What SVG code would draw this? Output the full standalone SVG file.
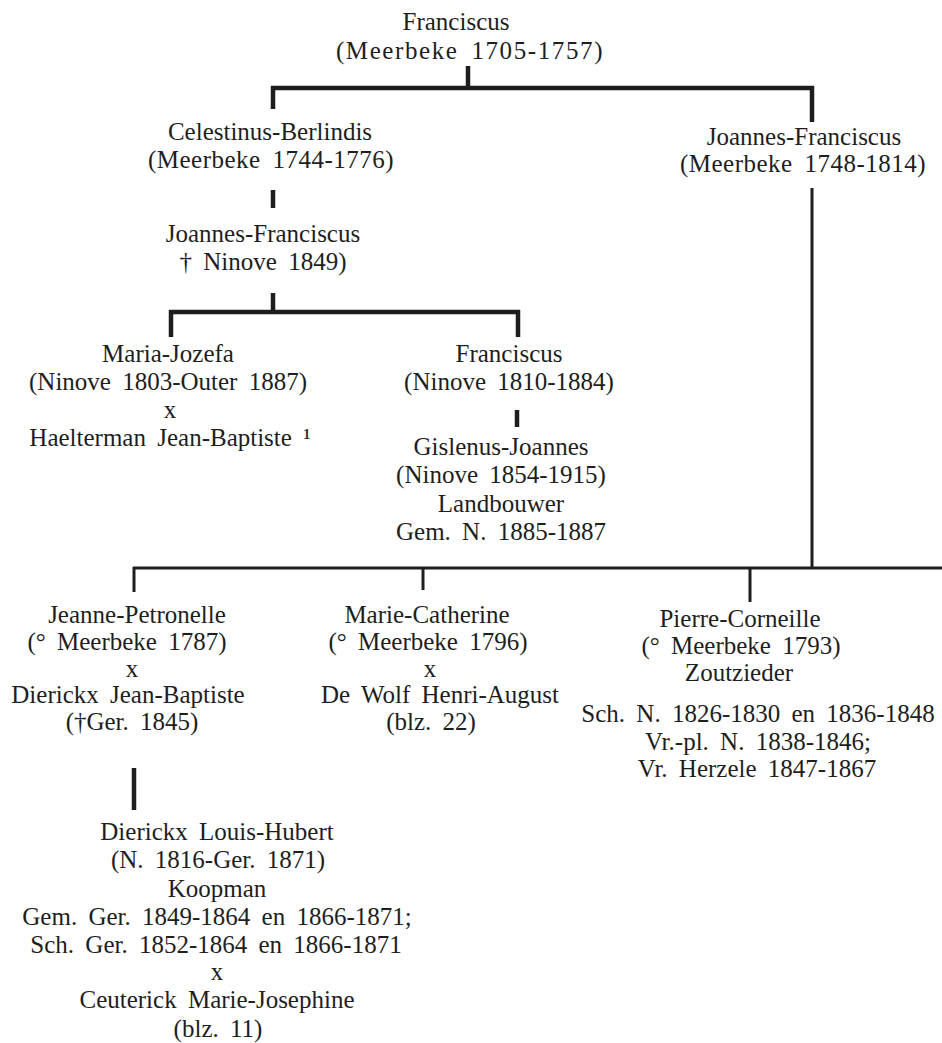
<svg xmlns="http://www.w3.org/2000/svg" width="942" height="1043" viewBox="0 0 942 1043">
<style>
.t{font-family:"Liberation Serif",serif;font-size:25px;fill:#1e1e1e;text-anchor:middle;word-spacing:5px}
.ls1{letter-spacing:0.5px}
.ls2{letter-spacing:1.6px}
.c{stroke:#1e1e1e;fill:none;stroke-linecap:butt}
.w4{stroke-width:4.5}
.w3{stroke-width:3}
</style>
<rect width="942" height="1043" fill="#ffffff"/>
<g id="connectors">
  <line class="c w4" x1="468" y1="66" x2="468" y2="88"/>
  <line class="c w4" x1="271" y1="88" x2="814" y2="88"/>
  <line class="c w4" x1="273" y1="86" x2="273" y2="109"/>
  <line class="c w4" x1="812" y1="86" x2="812" y2="122"/>
  <line class="c w4" x1="273" y1="190" x2="273" y2="208"/>
  <line class="c w4" x1="273" y1="293" x2="273" y2="312"/>
  <line class="c w4" x1="169" y1="312" x2="520" y2="312"/>
  <line class="c w4" x1="171" y1="310" x2="171" y2="337"/>
  <line class="c w4" x1="518" y1="310" x2="518" y2="337"/>
  <line class="c w4" x1="517" y1="410" x2="517" y2="427"/>
  <line class="c w3" x1="812" y1="188" x2="812" y2="568"/>
  <line class="c w3" x1="133" y1="568" x2="942" y2="568"/>
  <line class="c w3" x1="134" y1="567" x2="134" y2="592"/>
  <line class="c w3" x1="423" y1="567" x2="423" y2="590"/>
  <line class="c w3" x1="750" y1="567" x2="750" y2="602"/>
  <line class="c w4" x1="134" y1="768" x2="134" y2="810"/>
</g>
<g id="n-franciscus">
  <text class="t" x="456" y="30">Franciscus</text>
  <text class="t ls2" x="470" y="59">(Meerbeke 1705-1757)</text>
</g>
<g id="n-celestinus">
  <text class="t" x="270" y="140">Celestinus-Berlindis</text>
  <text class="t ls1" x="271" y="168">(Meerbeke 1744-1776)</text>
</g>
<g id="n-joannes-right">
  <text class="t" x="804" y="145">Joannes-Franciscus</text>
  <text class="t ls1" x="803" y="172">(Meerbeke 1748-1814)</text>
</g>
<g id="n-joannes-left">
  <text class="t" x="263" y="242">Joannes-Franciscus</text>
  <text class="t" x="263" y="270">† Ninove 1849)</text>
</g>
<g id="n-maria">
  <text class="t" x="168" y="362">Maria-Jozefa</text>
  <text class="t" x="168" y="390">(Ninove 1803-Outer 1887)</text>
  <text class="t" x="170" y="418">x</text>
  <text class="t" x="170" y="446">Haelterman Jean-Baptiste ¹</text>
</g>
<g id="n-franciscus2">
  <text class="t" x="509" y="362">Franciscus</text>
  <text class="t" x="509" y="390">(Ninove 1810-1884)</text>
</g>
<g id="n-gislenus">
  <text class="t" x="501" y="455">Gislenus-Joannes</text>
  <text class="t" x="501" y="483">(Ninove 1854-1915)</text>
  <text class="t" x="501" y="512">Landbouwer</text>
  <text class="t" x="501" y="540">Gem. N. 1885-1887</text>
</g>
<g id="n-jeanne">
  <text class="t" x="137" y="623">Jeanne-Petronelle</text>
  <text class="t" x="127" y="650">(° Meerbeke 1787)</text>
  <text class="t" x="132" y="677">x</text>
  <text class="t" x="128" y="703">Dierickx Jean-Baptiste</text>
  <text class="t" x="132" y="730">(†Ger. 1845)</text>
</g>
<g id="n-marie">
  <text class="t" x="427" y="623">Marie-Catherine</text>
  <text class="t" x="428" y="650">(° Meerbeke 1796)</text>
  <text class="t" x="430" y="677">x</text>
  <text class="t" x="440" y="703">De Wolf Henri-August</text>
  <text class="t" x="431" y="730">(blz. 22)</text>
</g>
<g id="n-pierre">
  <text class="t" x="740" y="627">Pierre-Corneille</text>
  <text class="t" x="741" y="654">(° Meerbeke 1793)</text>
  <text class="t" x="739" y="681">Zoutzieder</text>
  <text class="t" x="758" y="722">Sch. N. 1826-1830 en 1836-1848</text>
  <text class="t" x="758" y="750">Vr.-pl. N. 1838-1846;</text>
  <text class="t" x="757" y="777">Vr. Herzele 1847-1867</text>
</g>
<g id="n-dierickx">
  <text class="t" x="217" y="840">Dierickx Louis-Hubert</text>
  <text class="t" x="218" y="868">(N. 1816-Ger. 1871)</text>
  <text class="t" x="217" y="897">Koopman</text>
  <text class="t" x="217" y="925">Gem. Ger. 1849-1864 en 1866-1871;</text>
  <text class="t" x="216" y="953">Sch. Ger. 1852-1864 en 1866-1871</text>
  <text class="t" x="217" y="980">x</text>
  <text class="t" x="217" y="1008">Ceuterick Marie-Josephine</text>
  <text class="t" x="218" y="1037">(blz. 11)</text>
</g>
</svg>
